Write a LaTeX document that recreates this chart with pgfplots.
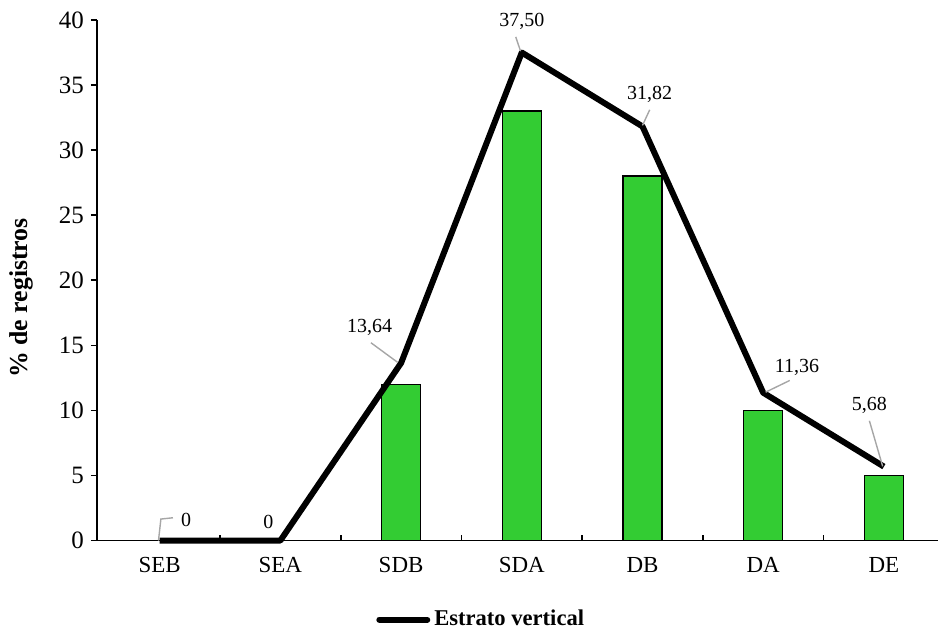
\documentclass[border=0pt]{standalone}
\usepackage{pgfplots}
\pgfplotsset{compat=1.18}
\usepackage{fontspec}
\setmainfont{Liberation Serif}
\definecolor{barg}{RGB}{51,204,51}
\definecolor{lead}{RGB}{166,166,166}
\begin{document}
\begin{tikzpicture}
\begin{axis}[
  scale only axis,
  width=421pt, height=260.5pt,
  xmin=-0.52, xmax=6.45,
  ymin=0, ymax=40,
  ytick={0,5,...,40},
  xtick={0.5,1.5,...,5.5},
  xticklabels={},
  extra x ticks={0,1,2,3,4,5,6},
  extra x tick labels={SEB,SEA,SDB,SDA,DB,DA,DE},
  extra x tick style={major tick length=0pt, xticklabel style={yshift=-5pt}},
  axis x line=bottom, axis y line=left,
  axis line style={-, line width=0.8pt},
  xtick align=inside, ytick align=outside,
  major tick length=3pt,
  tick style={line width=0.8pt, black},
  /pgf/number format/assume math mode=true,
  xticklabel style={font=\fontsize{11.5}{13}\selectfont},
  yticklabel style={font=\fontsize{12.5}{14}\selectfont},
  ylabel={\% de registros},
  every axis y label/.style={at={(rel axis cs:-0.09,0.466)}, rotate=90, anchor=center,
    font=\fontsize{12.9}{15}\selectfont\bfseries},
  clip=false,
  legend style={at={(rel axis cs:0.458,-0.152)}, anchor=center, draw=none, fill=none,
    font=\fontsize{11.3}{13}\selectfont\bfseries, inner sep=0pt},
  legend image code/.code={\draw[line width=3pt, line cap=round, #1] (0pt,0pt) -- (24pt,0pt);},
]
\path (rel axis cs:-0.1152,-0.1766) rectangle (rel axis cs:1,1.0384);
\addplot[ybar, bar width=19.5pt, fill=barg, draw=black, line width=0.7pt, forget plot]
  coordinates {(0,0) (1,0) (2,12) (3,33) (4,28) (5,10) (6,5)};
\addplot[black, line width=3pt, line join=round, no markers]
  coordinates {(0,0) (1,0) (2,13.64) (3,37.50) (4,31.82) (5,11.36) (6,5.68)};
\addlegendentry{Estrato vertical}
% data labels with leader lines
\begin{scope}[font=\fontsize{10}{12}\selectfont]
\draw[lead, line width=0.7pt] (axis cs:-0.01,0) -- (axis cs:0.01,1.65) -- (axis cs:0.11,1.75);
\node at (axis cs:0.22,1.6) {0};
\node at (axis cs:0.9,1.4) {0};
\draw[lead, line width=0.7pt] (axis cs:1.97,13.7) -- (axis cs:1.75,15.2);
\node at (axis cs:1.74,16.4) {13,64};
\draw[lead, line width=0.7pt] (axis cs:2.99,37.6) -- (axis cs:2.95,38.7);
\node at (axis cs:3.0,39.9) {37,50};
\draw[lead, line width=0.7pt] (axis cs:4.0,31.9) -- (axis cs:4.06,33.1);
\node at (axis cs:4.06,34.3) {31,82};
\draw[lead, line width=0.7pt] (axis cs:5.02,11.4) -- (axis cs:5.22,12.3);
\node at (axis cs:5.28,13.3) {11,36};
\draw[lead, line width=0.7pt] (axis cs:5.99,5.7) -- (axis cs:5.88,9.2);
\node at (axis cs:5.88,10.4) {5,68};
\end{scope}
\end{axis}
\end{tikzpicture}
\end{document}
